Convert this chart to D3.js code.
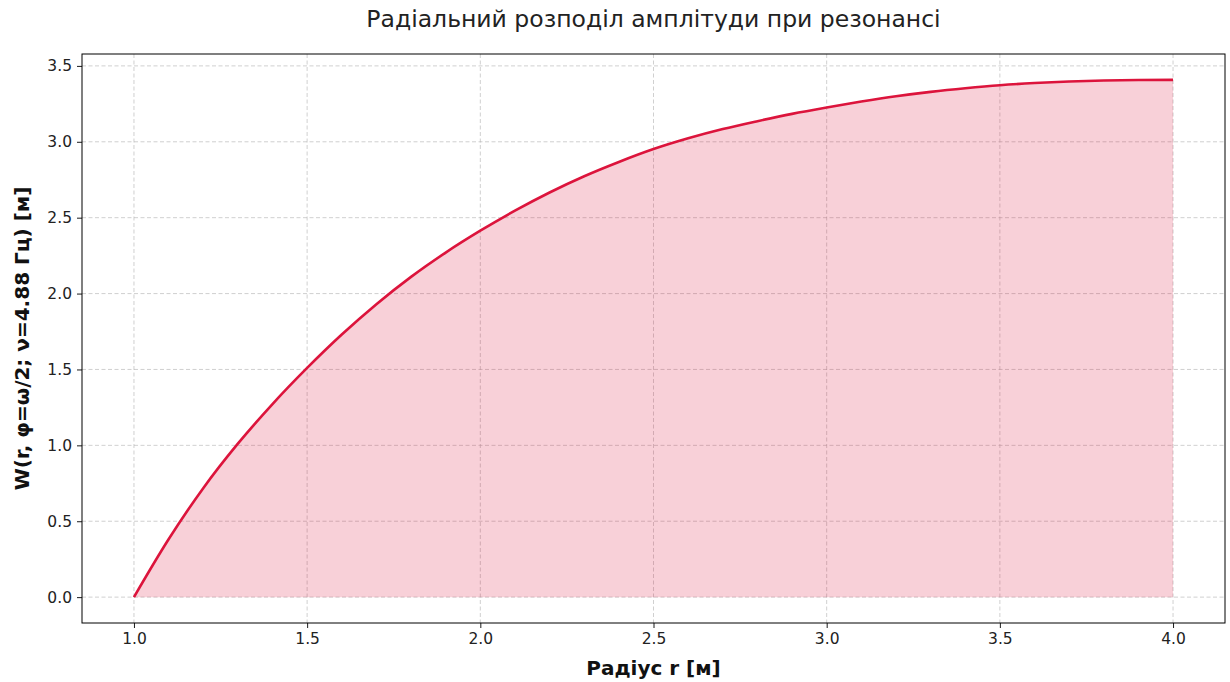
<!DOCTYPE html>
<html>
<head>
<meta charset="utf-8">
<script src="https://cdn.jsdelivr.net/npm/d3@7"></script>
<style>
  html, body { margin: 0; padding: 0; background: #fff; }
  svg { display: block; font-family: "DejaVu Sans", sans-serif; }
</style>
</head>
<body>
<svg id="chart" width="1230" height="682"></svg>
<script>
// Radius samples, m
const radius = [1.0, 1.1, 1.2, 1.3, 1.4, 1.5, 1.6, 1.7, 1.8, 1.9, 2.0,
                2.1, 2.2, 2.3, 2.4, 2.5, 2.6, 2.7, 2.8, 2.9, 3.0,
                3.1, 3.2, 3.3, 3.4, 3.5, 3.6, 3.7, 3.8, 3.9, 4.0];
// Deflection amplitude W at each radius, m
const amplitude = [0.0, 0.381, 0.718, 1.011, 1.272, 1.51, 1.73, 1.93, 2.11, 2.27, 2.414,
                   2.546, 2.666, 2.773, 2.867, 2.952, 3.023, 3.084, 3.136, 3.184, 3.226,
                   3.265, 3.300, 3.329, 3.353, 3.373, 3.387, 3.397, 3.4035, 3.407, 3.408];
const xTicks = [1.0, 1.5, 2.0, 2.5, 3.0, 3.5, 4.0];
const yTicks = [0.0, 0.5, 1.0, 1.5, 2.0, 2.5, 3.0, 3.5];

const titleText = "Радіальний розподіл амплітуди при резонансі";
const xLabelText = "Радіус r [м]";
const yLabelText = "W(r, φ=ω/2; ν=4.88 Гц) [м]";

const data = radius.map((r, i) => ({ r, w: amplitude[i] }));

const svg = d3.select("#chart");
const plot = { left: 82, right: 1225, top: 54, bottom: 623 };

// Axis limits padded 5% beyond the data
const xMin = d3.min(radius), xMax = d3.max(radius);
const yMin = d3.min(amplitude), yMax = d3.max(amplitude);
const xPad = (xMax - xMin) * 0.05, yPad = (yMax - yMin) * 0.05;

const x = d3.scaleLinear().domain([xMin - xPad, xMax + xPad]).range([plot.left, plot.right]);
const y = d3.scaleLinear().domain([yMin - yPad, yMax + yPad]).range([plot.bottom, plot.top]);

// Grid
const grid = svg.append("g").attr("class", "grid");
grid.selectAll("line.vx").data(xTicks).join("line")
  .attr("x1", d => x(d)).attr("x2", d => x(d))
  .attr("y1", plot.top).attr("y2", plot.bottom)
  .attr("stroke", "#b0b0b0").attr("stroke-opacity", 0.75)
  .attr("stroke-width", 0.8).attr("stroke-dasharray", "4,2.5");
grid.selectAll("line.hy").data(yTicks).join("line")
  .attr("x1", plot.left).attr("x2", plot.right)
  .attr("y1", d => y(d)).attr("y2", d => y(d))
  .attr("stroke", "#b0b0b0").attr("stroke-opacity", 0.75)
  .attr("stroke-width", 0.8).attr("stroke-dasharray", "4,2.5");

// Shaded area under the curve
const area = d3.area()
  .x(d => x(d.r)).y0(y(0)).y1(d => y(d.w))
  .curve(d3.curveMonotoneX);
svg.append("path").datum(data)
  .attr("d", area)
  .attr("fill", "#dc143c").attr("fill-opacity", 0.2);

// Amplitude curve
const line = d3.line()
  .x(d => x(d.r)).y(d => y(d.w))
  .curve(d3.curveMonotoneX);
svg.append("path").datum(data)
  .attr("d", line)
  .attr("fill", "none").attr("stroke", "#dc143c")
  .attr("stroke-width", 2.6).attr("stroke-linejoin", "round");

// Axes
const fmt = d3.format(".1f");
const xAxis = svg.append("g")
  .attr("transform", `translate(0,${plot.bottom})`)
  .call(d3.axisBottom(x).tickValues(xTicks).tickFormat(fmt).tickSizeOuter(0).tickSize(5).tickPadding(5));
const yAxis = svg.append("g")
  .attr("transform", `translate(${plot.left},0)`)
  .call(d3.axisLeft(y).tickValues(yTicks).tickFormat(fmt).tickSizeOuter(0).tickSize(5).tickPadding(5));
[xAxis, yAxis].forEach(a => {
  a.select(".domain").remove();
  a.selectAll(".tick line").attr("stroke", "#000").attr("stroke-width", 0.9);
  a.selectAll(".tick text").attr("fill", "#222")
    .style("font-family", "DejaVu Sans").style("font-size", "15.5px");
});

// Frame
svg.append("rect")
  .attr("x", plot.left).attr("y", plot.top)
  .attr("width", plot.right - plot.left).attr("height", plot.bottom - plot.top)
  .attr("fill", "none").attr("stroke", "#000").attr("stroke-width", 1);

// Labels
svg.append("text")
  .attr("x", (plot.left + plot.right) / 2).attr("y", 27)
  .attr("text-anchor", "middle")
  .style("font-size", "23.5px").attr("fill", "#222")
  .text(titleText);

svg.append("text")
  .attr("x", (plot.left + plot.right) / 2).attr("y", 675)
  .attr("text-anchor", "middle")
  .style("font-size", "20px").style("font-weight", "bold").attr("fill", "#111")
  .text(xLabelText);

svg.append("text")
  .attr("transform", `translate(29,${(plot.top + plot.bottom) / 2}) rotate(-90)`)
  .attr("text-anchor", "middle")
  .style("font-size", "20px").style("font-weight", "bold").attr("fill", "#111")
  .text(yLabelText);
</script>
</body>
</html>
